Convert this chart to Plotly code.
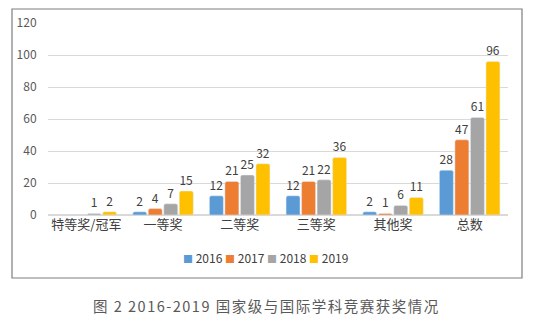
import plotly.graph_objects as go

categories = ["特等奖/冠军", "一等奖", "二等奖", "三等奖", "其他奖", "总数"]
years = ["2016", "2017", "2018", "2019"]
v2016 = [None, 2, 12, 12, 2, 28]
v2017 = [None, 4, 21, 21, 1, 47]
v2018 = [1, 7, 25, 22, 6, 61]
v2019 = [2, 15, 32, 36, 11, 96]
colors = ["#5B9BD5", "#ED7D31", "#A5A5A5", "#FFC000"]
caption = "图 2 2016-2019 国家级与国际学科竞赛获奖情况"

fig = go.Figure()
for name, vals, c in zip(years, [v2016, v2017, v2018, v2019], colors):
    fig.add_trace(go.Bar(
        x=categories, y=vals, name=name, marker_color=c,
        text=[("" if v is None else str(v)) for v in vals],
        textposition="outside", cliponaxis=False, showlegend=False,
        textfont=dict(size=12, color="#404040", family="Noto Sans CJK SC"),
    ))

L, R, T, B = 48, 32, 23, 112
W, H = 540, 327
pw, ph = W - L - R, H - T - B

def px(x):
    return (x - L) / pw

def py(y):
    return (H - B - y) / ph

legend_html = "&nbsp;".join(
    f"<span style='color:{c};font-size:10px'>■</span>&nbsp;{y}" for y, c in zip(years, colors)
)

fig.update_layout(
    width=W, height=H,
    margin=dict(l=L, r=R, t=T, b=B),
    paper_bgcolor="white", plot_bgcolor="white",
    barmode="group", bargap=0.19, bargroupgap=0.1,
    barcornerradius=2,
    font=dict(family="Noto Sans CJK SC", color="#404040"),
    xaxis=dict(showgrid=False, showline=False, ticks="",
               tickfont=dict(size=13, color="#404040", family="Noto Sans CJK SC")),
    yaxis=dict(range=[0, 120], dtick=20, showgrid=True, gridcolor="#D9D9D9",
               gridwidth=1, zeroline=True, zerolinecolor="#D9D9D9", showline=False,
               tickfont=dict(size=12, color="#595959"), ticklen=8, ticks="outside",
               tickcolor="rgba(0,0,0,0)"),
    shapes=[dict(type="rect", xref="paper", yref="paper",
                 x0=px(12), x1=px(522), y0=py(278), y1=py(9),
                 line=dict(color="#7F7F7F", width=1.2), fillcolor="rgba(0,0,0,0)",
                 layer="below")],
    annotations=[
        dict(text=legend_html, xref="paper", yref="paper", x=px(265), y=py(257),
             xanchor="center", yanchor="middle", showarrow=False,
             font=dict(size=12, color="#404040", family="Noto Sans CJK SC")),
        dict(text=f"<span style='letter-spacing:1.5px'>{caption}</span>",
             xref="paper", yref="paper", x=px(266), y=py(305),
             xanchor="center", yanchor="middle", showarrow=False,
             font=dict(size=14.5, color="#595959", family="Noto Sans CJK SC")),
    ],
)

fig.write_html("out.html")
